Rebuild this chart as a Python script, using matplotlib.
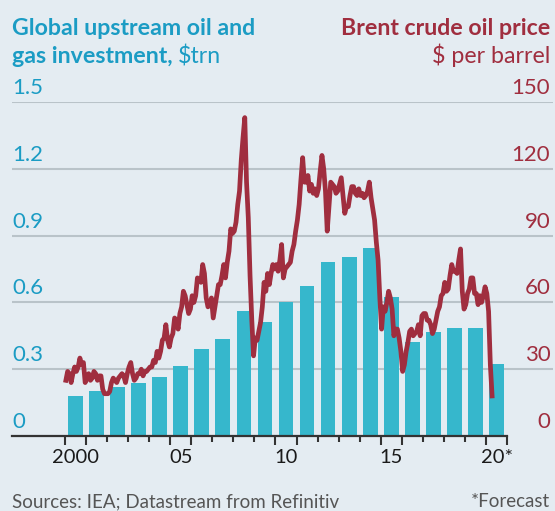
import numpy as np
import matplotlib
matplotlib.use("Agg")
import matplotlib.pyplot as plt
import matplotlib.transforms as mtransforms

# upstream oil & gas investment, $trn (2020 is a forecast)
years = list(range(2000, 2021))
investment = [0.18, 0.20, 0.22, 0.24, 0.265, 0.315, 0.39, 0.435, 0.56, 0.51,
              0.60, 0.675, 0.78, 0.805, 0.845, 0.625, 0.42, 0.465, 0.485, 0.485,
              0.325]

# Brent crude, $ per barrel, one value per month
brent_2000 = [25, 29, 28, 24, 28, 31, 29, 31, 35, 32, 33, 24]
brent_2001 = [26, 28, 25, 26, 29, 28, 25, 27, 27, 21, 19, 19]
brent_2002 = [19, 20, 24, 26, 25, 24, 26, 27, 28, 27, 24, 28]
brent_2003 = [31, 33, 28, 25, 26, 28, 28, 30, 27, 29, 29, 30]
brent_2004 = [31, 31, 34, 33, 38, 35, 38, 43, 44, 50, 43, 40]
brent_2005 = [44, 46, 53, 52, 48, 55, 58, 65, 63, 59, 55, 57]
brent_2006 = [63, 60, 63, 71, 70, 69, 77, 73, 62, 58, 59, 62]
brent_2007 = [53, 58, 63, 68, 68, 72, 77, 71, 78, 83, 93, 91]
brent_2008 = [92, 96, 104, 110, 124, 134, 143, 114, 98, 72, 52, 36]
brent_2009 = [44, 43, 47, 51, 58, 69, 65, 73, 68, 73, 77, 75]
brent_2010 = [77, 74, 79, 86, 71, 75, 76, 77, 78, 83, 86, 92]
brent_2011 = [97, 104, 115, 125, 114, 114, 117, 110, 113, 109, 111, 108]
brent_2012 = [111, 119, 126, 120, 110, 92, 103, 114, 113, 112, 109, 110]
brent_2013 = [113, 116, 108, 100, 103, 103, 108, 112, 112, 109, 108, 111]
brent_2014 = [108, 109, 107, 108, 110, 114, 107, 102, 97, 87, 79, 62]
brent_2015 = [48, 58, 56, 60, 65, 62, 57, 45, 48, 48, 44, 38]
brent_2016 = [29, 32, 38, 42, 47, 48, 45, 46, 47, 50, 45, 54]
brent_2017 = [55, 55, 52, 52, 50, 46, 48, 52, 56, 58, 63, 64]
brent_2018 = [69, 65, 66, 72, 77, 74, 74, 73, 79, 84, 65, 57]
brent_2019 = [59, 64, 66, 71, 71, 64, 64, 59, 63, 60, 63, 67]
brent_2020 = [64, 56, 32, 18]

brent = (brent_2000 + brent_2001 + brent_2002 + brent_2003 + brent_2004 +
         brent_2005 + brent_2006 + brent_2007 + brent_2008 + brent_2009 +
         brent_2010 + brent_2011 + brent_2012 + brent_2013 + brent_2014 +
         brent_2015 + brent_2016 + brent_2017 + brent_2018 + brent_2019 +
         brent_2020)
brent_x = 2000 + (np.arange(len(brent)) + 0.5) / 12

year_labels = ["2000", "05", "10", "15", "20*"]
label_years = [2000, 2005, 2010, 2015, 2020]
left_ticks = [0, 0.3, 0.6, 0.9, 1.2, 1.5]
right_ticks = ["0", "30", "60", "90", "120", "150"]

BG = "#e4ecf2"
BLUE = "#1b9cc4"
BAR = "#36b7cc"
RED = "#a02e3f"
GRID = "#b9c3c9"

plt.rcParams["font.family"] = ["Lato", "DejaVu Sans"]

W, H = 555, 511
fig = plt.figure(figsize=(W / 100, H / 100), dpi=100, facecolor=BG)

# axes frame in pixels: x 12..553, y 102..436
ax = fig.add_axes([12 / W, (H - 436) / H, 541 / W, 334 / H])
ax.set_facecolor(BG)
x0 = 2000 - 53 / 21.05
x1 = 2021 + 46 / 21.05
ax.set_xlim(x0, x1)
ax.set_ylim(0, 1.5)

for v in left_ticks[1:]:
    ax.axhline(v, color=GRID, lw=1.5, zorder=0)

ax.bar(np.array(years) + 0.5, investment, width=0.7, color=BAR, zorder=2)

# baseline only runs to the end of the last year
ax.axhline(0, xmin=0, xmax=(2021 - x0) / (x1 - x0), color="#333333",
           lw=1.6, zorder=4, clip_on=False)

ax2 = ax.twinx()
ax2.set_ylim(0, 150)
ax2.plot(brent_x, brent, color=RED, lw=3.4, zorder=5,
         solid_joinstyle="round")
ax2.set_xlim(x0, x1)

for a in (ax, ax2):
    for s in a.spines.values():
        s.set_visible(False)
    a.tick_params(axis="y", which="both", left=False, right=False,
                  labelleft=False, labelright=False)

# year boundary ticks, longer around labelled years
ticks = list(range(2000, 2022))
ax.set_xticks(ticks)
ax.set_xticklabels([])
ax.tick_params(axis="x", which="major", direction="out", length=4.5,
               width=1.5, color="#333333")
long_ticks = [2000, 2001, 2005, 2006, 2010, 2011, 2015, 2016, 2020, 2021]
for t in ax.xaxis.get_major_ticks():
    if t.get_loc() in long_ticks:
        t.tick1line.set_markersize(6.8)

for yr, lab in zip(label_years, year_labels):
    off = 0.55 if lab.endswith("*") else 0.5
    ax.text(yr + off, -0.058, lab, ha="center", va="top", fontsize=14.5,
            color="#1a1a1a", transform=ax.transData, clip_on=False)

# axis value labels sit just above their gridlines
tr_left = mtransforms.blended_transform_factory(ax.transAxes, ax.transData)
for v, rlab in zip(left_ticks, right_ticks):
    lab = "0" if v == 0 else f"{v:.1f}"
    ax.text(0.0, v + 0.018, lab, ha="left", va="bottom", fontsize=16,
            color=BLUE, transform=tr_left)
    ax.text(0.995, v + 0.018, rlab, ha="right", va="bottom", fontsize=16,
            color=RED, transform=tr_left)

TS = 16.7
fig.text(12 / W, 1 - 35 / H, "Global upstream oil and", ha="left",
         va="baseline", fontsize=TS, fontweight="bold", color=BLUE)
gas = fig.text(12 / W, 1 - 63 / H, "gas investment, ", ha="left",
               va="baseline", fontsize=TS, fontweight="bold", color=BLUE)
fig.canvas.draw()
bb = gas.get_window_extent()
fig.text(bb.x1 / W, 1 - 63 / H, "$trn", ha="left", va="baseline",
         fontsize=TS, color=BLUE)
fig.text(550 / W, 1 - 35 / H, "Brent crude oil price", ha="right",
         va="baseline", fontsize=TS, fontweight="bold", color=RED)
fig.text(550 / W, 1 - 63 / H, "$ per barrel", ha="right",
         va="baseline", fontsize=TS, color=RED)

fig.text(12 / W, 1 - 507 / H, "Sources: IEA; Datastream from Refinitiv",
         ha="left", va="baseline", fontsize=13.5, color="#555555")
fig.text(550 / W, 1 - 507 / H, "*Forecast", ha="right", va="baseline",
         fontsize=13.5, color="#555555")

fig.savefig("out.png", dpi=100, facecolor=BG)
